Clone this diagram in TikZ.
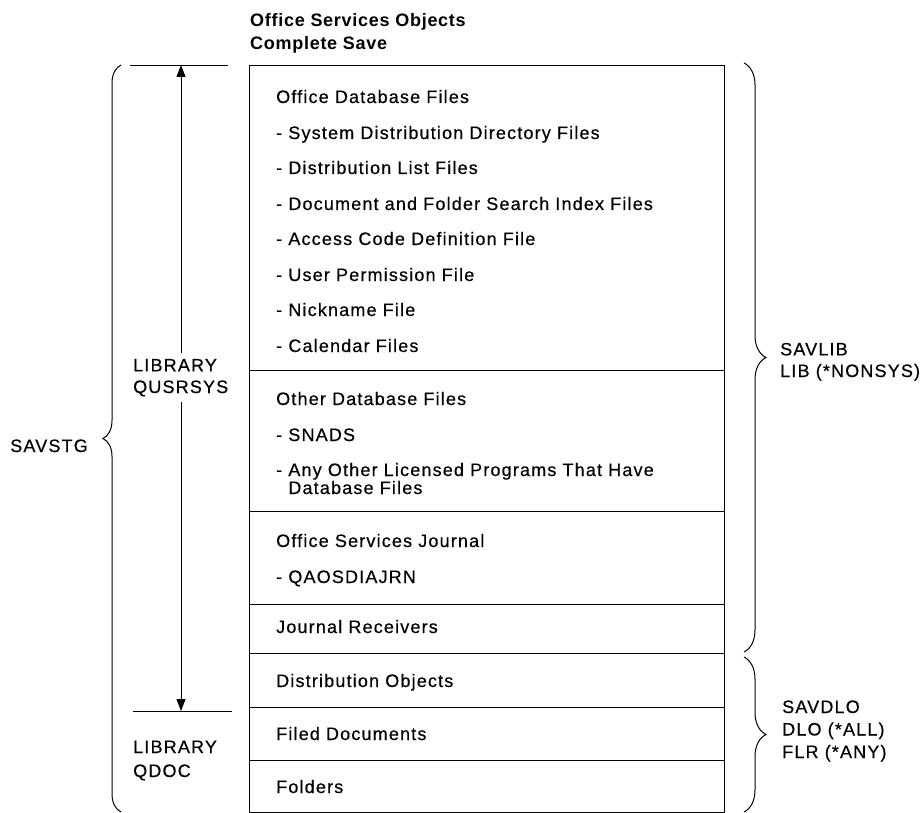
\documentclass[tikz,border=0pt]{standalone}
\usepackage{fontspec}
\setmainfont{Liberation Sans}[LetterSpace=6.5, UprightFeatures={FakeBold=0.4}]
\usetikzlibrary{positioning,arrows.meta,decorations.pathreplacing}
\tikzstyle{sect} = [rectangle, draw, line width=1pt, minimum width=475pt, outer sep=0pt, inner sep=0pt]
\tikzstyle{entry} = [anchor=base west, inner sep=0pt, font=\fontsize{18}{21.6}\selectfont]
\tikzstyle{tag} = [entry, align=left]
\tikzstyle{dimline} = [draw, line width=0.9pt, {Triangle[length=12pt,width=9pt]}-{Triangle[length=12pt,width=9pt]}]
\tikzset{bracket/.style={draw, line width=1pt, decorate, decoration={brace, amplitude=#1}}}

\begin{document}
\begin{tikzpicture}[x=1pt, y=-1pt]
		\useasboundingbox (0,0) rectangle (923,813);
		% Title (base = last line)
		\node[tag, font=\fontsize{18}{23}\selectfont\bfseries\addfontfeatures{LetterSpace=4}] (title) at (250,50) {Office Services Objects\\Complete Save};
		
		% Box
		\node[sect, minimum height=304pt, anchor=north west] (officedb) at (249,66) {};
		\node[sect, minimum height=141pt, below=0pt of officedb] (otherdb) {};
		\node[sect, minimum height=93pt, below=0pt of otherdb] (journal) {};
		\node[sect, minimum height=49pt, below=0pt of journal] (receivers) {};
		\node[sect, minimum height=54pt, below=0pt of receivers] (distobj) {};
		\node[sect, minimum height=53pt, below=0pt of distobj] (fileddoc) {};
		\node[sect, minimum height=52pt, below=0pt of fileddoc] (folders) {};
		
		% Entries
		\node[entry] (officedbhead) at (276,103) {Office Database Files};
		\node[entry] (sysdir) at (276,139) {- System Distribution Directory Files};
		\node[entry] (distlist) at (276,174) {- Distribution List Files};
		\node[entry] (searchidx) at (276,210) {- Document and Folder Search Index Files};
		\node[entry] (accesscode) at (276,245) {- Access Code Definition File};
		\node[entry] (userperm) at (276,281) {- User Permission File};
		\node[entry] (nickname) at (276,316) {- Nickname File};
		\node[entry] (calendar) at (276,352) {- Calendar Files};
		\node[entry] (otherdbhead) at (276,405) {Other Database Files};
		\node[entry] (snads) at (276,441) {- SNADS};
		\node[tag, font=\fontsize{18}{18}\selectfont] (licpgm) at (276,494) {- Any Other Licensed Programs That Have\\\hphantom{- }Database Files};
		\node[entry] (journalhead) at (276,547) {Office Services Journal};
		\node[entry] (qaosdiajrn) at (276,583) {- QAOSDIAJRN};
		\node[entry] (receivershead) at (276,633) {Journal Receivers};
		\node[entry] (distobjhead) at (276,687) {Distribution Objects};
		\node[entry] (fileddochead) at (276,740) {Filed Documents};
		\node[entry] (foldershead) at (276,793) {Folders};
		
		% Libraries
		\coordinate (topl) at (130,65);
		\coordinate (topr) at (228,65);
		\coordinate (botl) at (133,711);
		\coordinate (botr) at (232,711);
		\coordinate (arrtop) at (181,65);
		\coordinate (arrbot) at (181,711);
		\draw[line width=0.9pt] (topl) -- (topr);
		\draw[line width=0.9pt] (botl) -- (botr);
		\path[dimline] (arrtop) -- (arrbot);
		\node[tag, fill=white, inner ysep=6pt] (qusrsys) at (133,393) {LIBRARY\\QUSRSYS};
		\node[tag, font=\fontsize{18}{24}\selectfont] (qdoc) at (133,777) {LIBRARY\\QDOC};
		
		% Braces
		\coordinate (savstgbot) at (121,812);
		\coordinate (savstgtop) at (121,65);
		\coordinate (savlibtop) at (744,63);
		\coordinate (savlibbot) at (744,652);
		\coordinate (savdlotop) at (744,657);
		\coordinate (savdlobot) at (744,812);
		\draw[bracket=18pt] (savstgbot) -- (savstgtop);
		\draw[bracket=22pt] (savlibtop) -- (savlibbot);
		\draw[bracket=22pt] (savdlotop) -- (savdlobot);
		\node[entry, anchor=base east] (savstg) at (88,452) {SAVSTG};
		\node[tag] (savlib) at (780,377) {SAVLIB\\LIB (*NONSYS)};
		\node[tag, font=\fontsize{18}{22.5}\selectfont] (savdlo) at (782,758) {SAVDLO\\DLO (*ALL)\\FLR (*ANY)};
		
	\end{tikzpicture}
\end{document}
